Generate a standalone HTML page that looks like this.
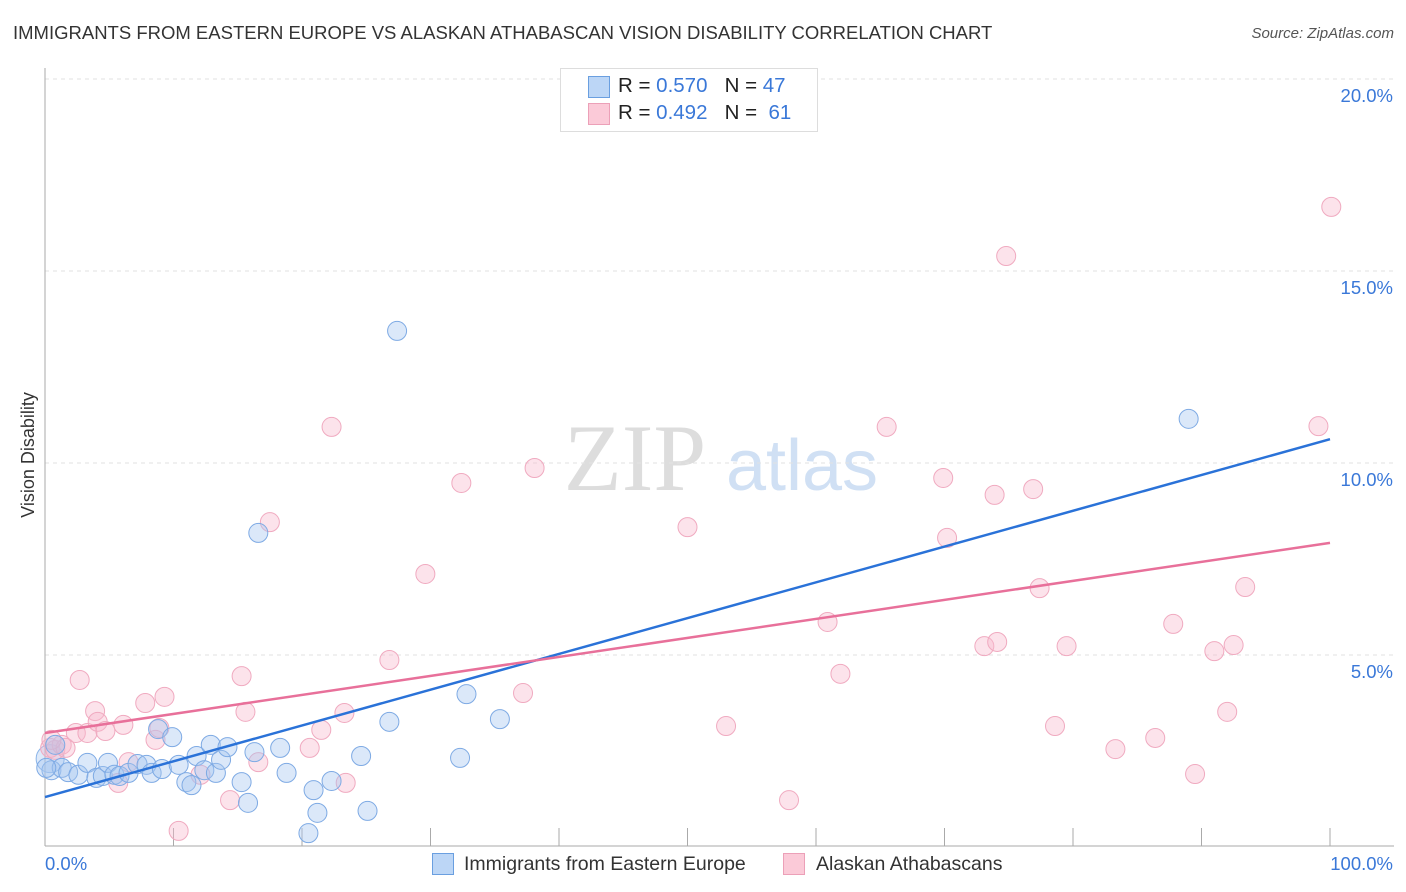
<!DOCTYPE html>
<html><head><meta charset="utf-8"><style>
body{margin:0;background:#fff;font-family:"Liberation Sans",sans-serif}
#wrap{position:relative;width:1406px;height:892px;overflow:hidden}
.t{position:absolute;white-space:nowrap}
</style></head><body>
<div id="wrap">
<div class="t" style="left:13px;top:22px;font-size:18.5px;color:#333">IMMIGRANTS FROM EASTERN EUROPE VS ALASKAN ATHABASCAN VISION DISABILITY CORRELATION CHART</div>
<div class="t" style="right:12px;top:25px;font-size:15px;color:#555;font-style:italic">Source: ZipAtlas.com</div>
<svg id="svg" width="1406" height="892" style="position:absolute;left:0;top:0"></svg>
</div>
<script>
const blueX=[0.5,0.8,1.3,1.8,2.6,3.3,4.0,4.5,4.9,5.4,5.8,6.5,7.2,7.9,8.3,8.8,9.1,9.9,10.4,11.0,11.4,11.8,12.4,12.9,13.3,13.7,14.2,15.3,15.8,16.3,16.6,18.3,18.8,20.9,21.2,20.5,22.3,24.6,25.1,26.8,27.4,32.3,32.8,35.4,89.0,0.1];
const blueY=[2.0,2.66,2.06,1.95,1.88,2.19,1.8,1.85,2.19,1.88,1.85,1.93,2.16,2.14,1.93,3.07,2.03,2.86,2.14,1.69,1.61,2.37,2.0,2.66,1.93,2.27,2.6,1.69,1.15,2.47,8.18,2.58,1.93,1.48,0.89,0.36,1.72,2.37,0.94,3.26,13.44,2.32,3.98,3.33,11.15,2.06];
const pinkX=[0.4,0.8,1.3,1.6,2.7,2.4,3.9,3.3,4.1,4.7,5.7,6.1,6.5,7.8,8.6,8.9,9.3,10.4,12.1,14.4,15.3,15.6,16.6,17.5,20.6,21.5,22.3,23.4,23.3,26.8,29.6,32.4,37.2,38.1,50.0,53.0,57.9,60.9,61.9,65.5,69.9,70.2,73.9,73.1,74.1,74.8,76.9,77.4,79.5,78.6,83.3,86.4,87.8,89.5,91.0,92.0,92.5,93.4,99.1,100.1,0.5];
const pinkY=[2.58,2.53,2.66,2.58,4.35,2.97,3.54,2.97,3.26,3.02,1.67,3.18,2.21,3.75,2.79,3.10,3.91,0.42,1.88,1.22,4.45,3.52,2.21,8.46,2.58,3.05,10.94,1.67,3.49,4.87,7.11,9.48,4.01,9.87,8.33,3.15,1.22,5.86,4.51,10.94,9.61,8.05,9.17,5.23,5.34,15.39,9.32,6.74,5.23,3.15,2.55,2.84,5.81,1.90,5.10,3.52,5.26,6.77,10.96,16.67,2.79];
const blueTrend=[1.30,10.62];
const pinkTrend=[2.97,7.92];
const yTicks=[5,10,15,20];
const yTickLabels=["5.0%","10.0%","15.0%","20.0%"];
const xTicks=[0,10,20,30,40,50,60,70,80,90,100];

const X=v=>45+v*12.85, Y=v=>847-v*38.4;
const svg=document.getElementById('svg');const NS='http://www.w3.org/2000/svg';
function mk(tag,a,parent){const e=document.createElementNS(NS,tag);for(const k in a)e.setAttribute(k,a[k]);(parent||svg).appendChild(e);return e;}
let w1=mk('text',{x:635,y:490,'font-size':95,fill:'#ddd','font-family':'Liberation Serif, serif','text-anchor':'middle'});w1.textContent='ZIP';


let w2=mk('text',{x:802,y:490,'font-size':72,fill:'#d0e0f4','font-family':'Liberation Sans, sans-serif','text-anchor':'middle'});w2.textContent='atlas';


yTicks.forEach((v,i)=>{
 let g=mk('line',{x1:45,x2:1394,y1:Y(v),y2:Y(v),stroke:'#e2e2e2','stroke-dasharray':'4,4'});
 
 
 let t=mk('text',{x:1393,y:Y(v)+23,'font-size':18.5,fill:'#3a78d8','text-anchor':'end'});t.textContent=yTickLabels[i];
 
 
});
let ax=mk('line',{x1:45,x2:45,y1:68,y2:846,stroke:'#aaa'});


let bx=mk('line',{x1:45,x2:1394,y1:846,y2:846,stroke:'#aaa'});


xTicks.forEach(v=>{let t=mk('line',{x1:X(v),x2:X(v),y1:828,y2:846,stroke:'#aaa'});
 
 });
let xl=mk('text',{x:45,y:870,'font-size':18.5,fill:'#3a78d8'});xl.textContent='0.0%';


let xr=mk('text',{x:1393,y:870,'font-size':18.5,fill:'#3a78d8','text-anchor':'end'});xr.textContent='100.0%';


let yt=mk('text',{x:0,y:0,'font-size':18,fill:'#333','text-anchor':'middle',transform:'translate(34,455) rotate(-90)'});yt.textContent='Vision Disability';


let big=mk('circle',{cx:X(0.4),cy:Y(2.3),r:14,fill:'rgba(160,196,240,0.35)',stroke:'#8ab4e8','stroke-width':1});


function pts(xs,ys,fill,stroke,name){xs.forEach((x,i)=>{let c=mk('circle',{cx:X(x),cy:Y(ys[i]),r:9.5,fill:fill,stroke:stroke,'stroke-width':1});
 
 });}
pts(pinkX,pinkY,'rgba(248,185,205,0.4)','#f0aac0','pink-point');
pts(blueX,blueY,'rgba(165,198,240,0.4)','#7eaae4','blue-point');
let bt=mk('line',{x1:X(0),y1:Y(blueTrend[0]),x2:X(100),y2:Y(blueTrend[1]),stroke:'#2a72d8','stroke-width':2.5});


let pt=mk('line',{x1:X(0),y1:Y(pinkTrend[0]),x2:X(100),y2:Y(pinkTrend[1]),stroke:'#e8709a','stroke-width':2.5});


</script>
<div style="position:absolute;left:560px;top:68px;width:256px;height:62px;border:1px solid #ddd;background:#fff;font-size:20.5px;color:#222">
 <div style="position:absolute;left:27px;top:7px;width:20px;height:20px;background:#bcd6f6;border:1px solid #6a9fe0"></div>
 <div class="t" style="left:57px;top:5px">R = <span style="color:#3a78d8">0.570</span>&nbsp;&nbsp;&nbsp;N = <span style="color:#3a78d8">47</span></div>
 <div style="position:absolute;left:27px;top:34px;width:20px;height:20px;background:#fbcad8;border:1px solid #eca0b8"></div>
 <div class="t" style="left:57px;top:32px">R = <span style="color:#3a78d8">0.492</span>&nbsp;&nbsp;&nbsp;N = &nbsp;<span style="color:#3a78d8">61</span></div>
</div>
<div style="position:absolute;left:432px;top:853px;font-size:19.5px;color:#333">
 <div style="position:absolute;left:0;top:0;width:20px;height:20px;background:#bcd6f6;border:1px solid #6a9fe0"></div>
 <div class="t" style="left:32px;top:0">Immigrants from Eastern Europe</div>
 <div style="position:absolute;left:351px;top:0;width:20px;height:20px;background:#fbcad8;border:1px solid #eca0b8"></div>
 <div class="t" style="left:384px;top:0">Alaskan Athabascans</div>
</div>
</body></html>
